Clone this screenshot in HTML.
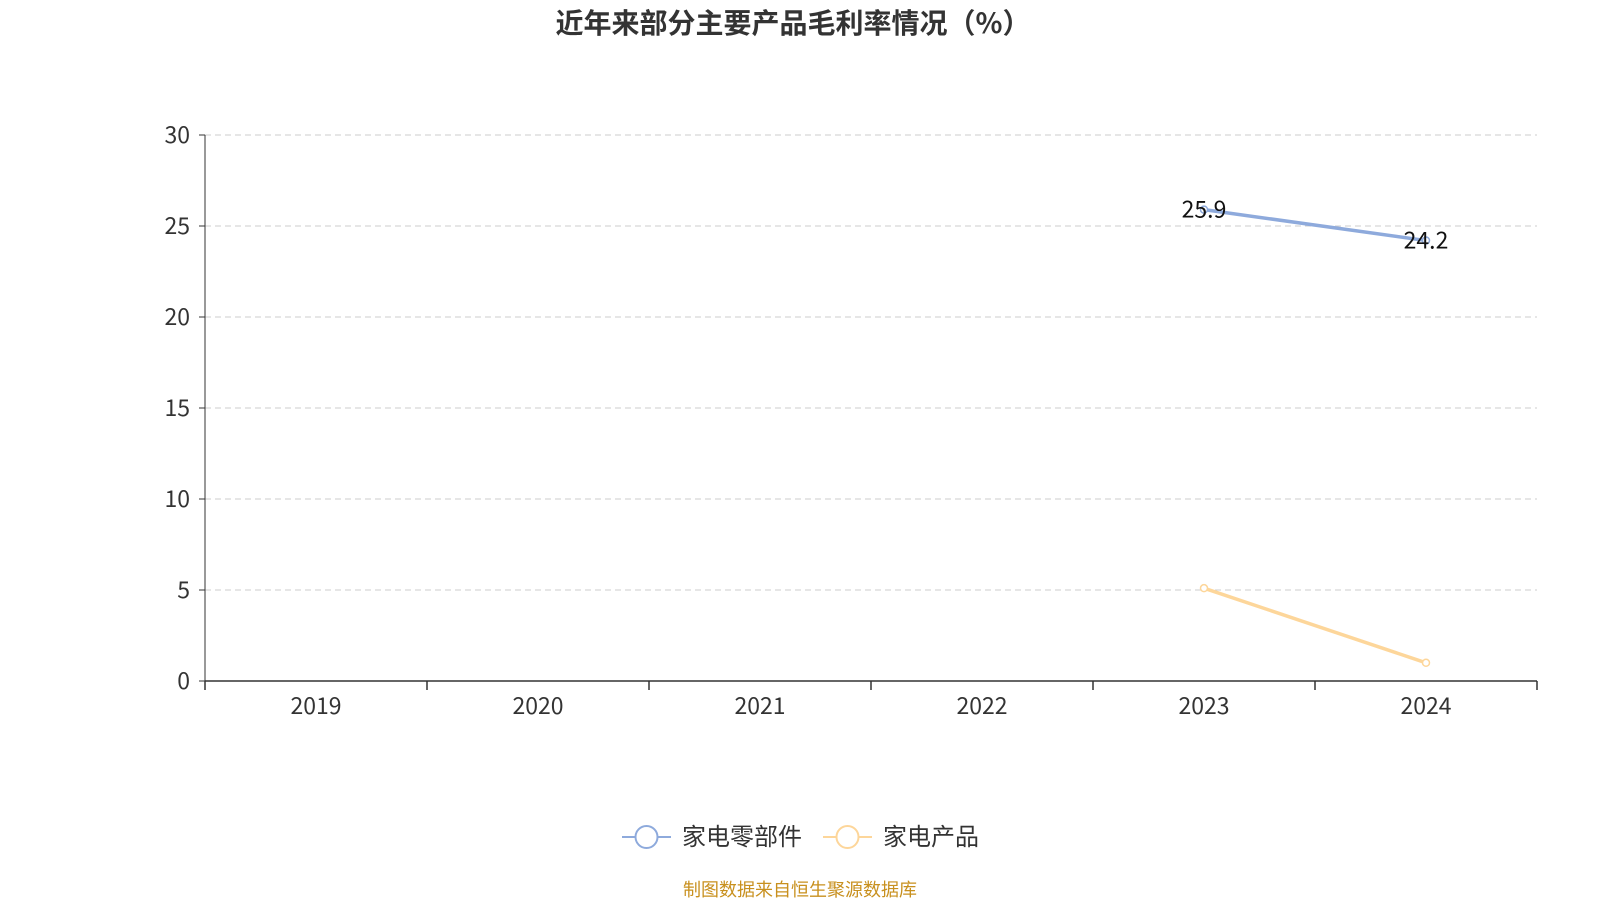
<!DOCTYPE html>
<html><head><meta charset="utf-8"><style>
body{margin:0;background:#fff;width:1600px;height:900px;overflow:hidden;font-family:"Noto Sans CJK SC","Liberation Sans",sans-serif}
</style></head><body>
<svg id="chart" width="1600" height="900" xmlns="http://www.w3.org/2000/svg" style="font-family:'Noto Sans CJK SC','Liberation Sans',sans-serif"></svg>
<script>
const categories=["2019","2020","2021","2022","2023","2024"];
const seriesNames=["家电零部件","家电产品"];
const series1=[null,null,null,null,25.9,24.2];
const series2=[null,null,null,null,5.1,1.0];
const yTicks=[0,5,10,15,20,25,30];
const colors=["#8eaadc","#fdd69a"];
const svg=document.getElementById('chart');
const NS="http://www.w3.org/2000/svg";
const L=205,R=1537,T=135,B=681,yMax=30;
const bw=(R-L)/categories.length;
function x(i){return L+bw*(i+0.5);}
function y(v){return B-(B-T)*v/yMax;}
function mk(tag,attrs,parent){const e=document.createElementNS(NS,tag);for(const k in attrs)e.setAttribute(k,attrs[k]);(parent||svg).appendChild(e);return e;}
let t=mk('text',{x:793,y:33,'text-anchor':'middle','font-size':28,'font-weight':'bold',fill:'#333'});
t.textContent="近年来部分主要产品毛利率情况（%）";


yTicks.forEach(v=>{
  if(v>0){const g=mk('line',{x1:L,x2:R,y1:y(v),y2:y(v),stroke:'#ccc','stroke-dasharray':'6,4'});
  
  }
  const tk=mk('line',{x1:L-6,x2:L,y1:y(v),y2:y(v),stroke:'#333'});
  
  
  const lb=mk('text',{x:L-15,y:y(v)+8,'text-anchor':'end','font-size':23,fill:'#333'});
  lb.textContent=v;
  
  
});
let ax=mk('line',{x1:L,x2:L,y1:T,y2:B,stroke:'#333'});


ax=mk('line',{x1:L,x2:R,y1:B,y2:B,stroke:'#333','stroke-width':1.5});


for(let i=0;i<=categories.length;i++){
  const tk=mk('line',{x1:L+bw*i,x2:L+bw*i,y1:B,y2:B+9,stroke:'#333','stroke-width':1.5});
  
  
}
categories.forEach((c,i)=>{
  const lb=mk('text',{x:x(i),y:714,'text-anchor':'middle','font-size':23,fill:'#333'});
  lb.textContent=c;
  
  
});
function drawSeries(data,color,name,labels){
  const pts=[];data.forEach((v,i)=>{if(v!=null)pts.push([x(i),y(v),v]);});
  const p=mk('polyline',{points:pts.map(q=>q[0]+','+q[1]).join(' '),fill:'none',stroke:color,'stroke-width':3.5});
  
  
  pts.forEach(q=>{
    const c=mk('circle',{cx:q[0],cy:q[1],r:3.5,fill:'#fff',stroke:color,'stroke-width':1.5});
    
    
    if(labels){const l=mk('text',{x:q[0],y:q[1]+8,'text-anchor':'middle','font-size':23,fill:'#111'});
      l.textContent=q[2];
      
      }
  });
}
drawSeries(series1,colors[0],'appliance-parts',true);
drawSeries(series2,colors[1],'appliance-products',false);
const legX=[622,823];
seriesNames.forEach((n,i)=>{
  const g=mk('g',{});
  
  
  mk('line',{x1:legX[i],x2:legX[i]+49,y1:837,y2:837,stroke:colors[i],'stroke-width':2},g);
  mk('circle',{cx:legX[i]+24.5,cy:837,r:11,fill:'#fff',stroke:colors[i],'stroke-width':2},g);
  const tx=mk('text',{x:legX[i]+60,y:845,'font-size':24,fill:'#333'},g);
  tx.textContent=n;
});
t=mk('text',{x:800,y:896,'text-anchor':'middle','font-size':18,fill:'#c8901e'});
t.textContent="制图数据来自恒生聚源数据库";


</script>
</body></html>
